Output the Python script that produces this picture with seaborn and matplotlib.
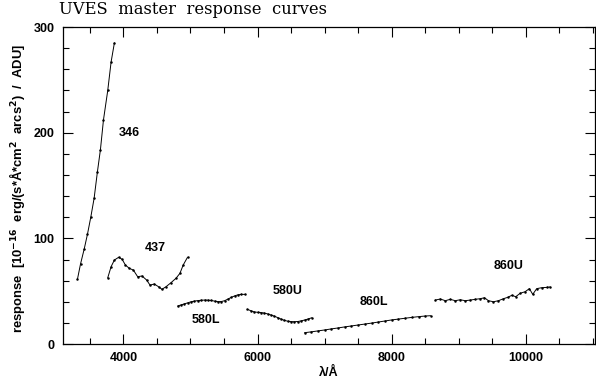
import pandas as pd
import matplotlib.pyplot as plt
import seaborn as sns
from matplotlib.ticker import MultipleLocator

# wavelength (A) and response per arm
wave_346 = [3316, 3361, 3416, 3465, 3514, 3564, 3613, 3658, 3703, 3767, 3817, 3866]
resp_346 = [61.5, 75.7, 89.9, 104, 120, 138, 163, 184, 212, 240, 267, 285]

wave_437 = [3767, 3817, 3866, 3930, 3981, 4030, 4089, 4149, 4213, 4278, 4346,
            4397, 4461, 4525, 4575, 4635, 4709, 4784, 4843, 4892, 4956]
resp_437 = [62.7, 73.2, 79.5, 82.1, 80.2, 74.8, 71.6, 70.0, 63.7, 64.4, 60.6,
            55.8, 56.8, 54.2, 51.8, 54.2, 58.0, 62.2, 66.9, 74.8, 82.1]

wave_580L = [4810, 4860, 4910, 4960, 5010, 5060, 5110, 5160, 5210, 5260, 5310,
             5360, 5410, 5460, 5510, 5560, 5610, 5660, 5710, 5760, 5810]
resp_580L = [36.0, 37.0, 38.0, 39.0, 40.0, 40.6, 41.1, 41.4, 41.6, 41.5, 41.2,
             40.6, 40.1, 40.2, 41.0, 42.6, 44.2, 45.6, 46.6, 47.0, 47.0]

wave_580U = [5850, 5900, 5950, 6000, 6050, 6100, 6150, 6200, 6250, 6300,
             6350, 6400, 6450, 6500, 6550, 6600, 6650, 6700, 6750, 6810]
resp_580U = [32.8, 31.5, 30.4, 30.0, 29.8, 29.3, 28.5, 27.5, 26.4, 25.0,
             23.6, 22.4, 21.6, 21.2, 21.1, 21.3, 21.9, 22.7, 23.6, 24.9]

wave_860L = [6700, 6800, 6900, 7000, 7100, 7200, 7300, 7400, 7500, 7600,
             7700, 7800, 7900, 8000, 8100, 8200, 8300, 8400, 8500, 8580]
resp_860L = [10.7, 11.5, 12.4, 13.3, 14.3, 15.2, 16.2, 17.1, 18.0, 18.9,
             19.8, 20.8, 21.8, 22.8, 23.6, 24.4, 25.2, 25.9, 26.5, 26.8]

wave_860U = [8650, 8724, 8799, 8873, 8947, 9022, 9096, 9170, 9245, 9319, 9383,
             9442, 9517, 9591, 9666, 9730, 9790, 9849, 9914, 9988, 10052,
             10102, 10161, 10235, 10310, 10360]
resp_860U = [41.6, 42.6, 41.0, 42.3, 41.0, 41.9, 41.0, 41.6, 42.3, 42.9, 43.8,
             41.0, 40.0, 41.0, 42.9, 44.2, 46.1, 44.8, 48.0, 49.5, 52.4,
             47.0, 52.4, 53.3, 53.6, 54.0]

arm_names = ["346", "437", "580L", "580U", "860L", "860U"]
label_pos = [(4090, 200), (4476, 91), (5234, 23), (6454, 50), (7733, 40), (9740, 74)]


def main():
    frames = []
    for name, w, r in zip(arm_names,
                          [wave_346, wave_437, wave_580L, wave_580U, wave_860L, wave_860U],
                          [resp_346, resp_437, resp_580L, resp_580U, resp_860L, resp_860U]):
        frames.append(pd.DataFrame({"wave": w, "resp": r, "arm": name}))
    df = pd.concat(frames, ignore_index=True)

    sns.set_style("ticks")
    plt.rcParams["font.family"] = ["Liberation Sans", "DejaVu Sans"]
    plt.rcParams["font.weight"] = "bold"
    plt.rcParams["text.color"] = "black"
    plt.rcParams["axes.labelcolor"] = "black"

    fig = plt.figure(figsize=(5.96, 3.80), dpi=100)
    ax = fig.add_axes([0.1057, 0.0947, 0.8926, 0.834])

    for name in arm_names:
        sub = df[df["arm"] == name]
        sns.lineplot(data=sub, x="wave", y="resp", ax=ax, color="black",
                     lw=0.7, marker="o", markersize=1.8, markeredgewidth=0,
                     estimator=None, legend=False)

    for name, (x, y) in zip(arm_names, label_pos):
        ax.text(x, y, name, ha="center", va="center", fontsize=9, fontweight="bold")

    ax.set_xlim(3100, 11030)
    ax.set_ylim(0, 300)
    ax.xaxis.set_major_locator(MultipleLocator(2000))
    ax.xaxis.set_minor_locator(MultipleLocator(500))
    ax.yaxis.set_major_locator(MultipleLocator(100))
    ax.yaxis.set_minor_locator(MultipleLocator(20))
    ax.tick_params(which="both", direction="in", top=True, right=True, width=0.8,
                   labelsize=9, colors="black")
    ax.tick_params(which="major", length=7, pad=6)
    ax.tick_params(which="minor", length=4)
    for lbl in ax.get_xticklabels() + ax.get_yticklabels():
        lbl.set_fontweight("bold")
    for s in ax.spines.values():
        s.set_linewidth(0.9)
        s.set_color("black")

    ax.set_xlabel("λ/Å", fontsize=9, fontweight="bold", labelpad=2)
    ax.set_ylabel(r"response  [10$^{\mathbf{-16}}$  erg/(s*Å*cm$^{\mathbf{2}}$  arcs$^{\mathbf{2}}$)  /  ADU]",
                  fontsize=9.4, fontweight="bold")
    ax.yaxis.set_label_coords(-0.068, 0.49)

    fig.text(0.099, 0.997, "UVES  master  response  curves", ha="left", va="top",
             fontsize=11.8, family="DejaVu Serif", fontweight="normal", color="black")

    fig.savefig("out.png", dpi=100)
    plt.close(fig)


if __name__ == "__main__":
    main()
